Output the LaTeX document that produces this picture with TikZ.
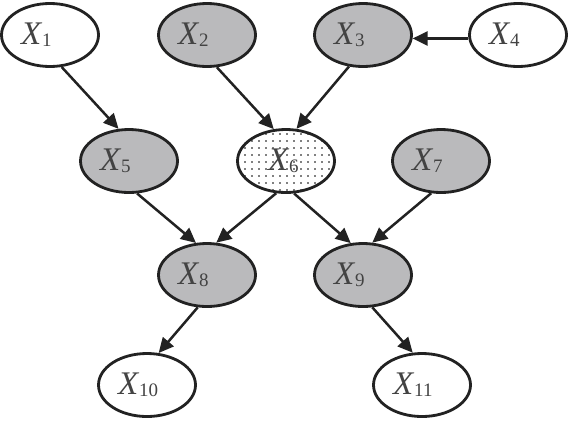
\documentclass[tikz,border=0pt]{standalone}
\usepackage{fontspec}
\setmainfont{Liberation Serif}
\usetikzlibrary{arrows.meta,patterns.meta,shapes.geometric}
\definecolor{nodegray}{RGB}{186,186,188}
\definecolor{inkgray}{RGB}{34,34,34}
\newcommand{\xv}[1]{\textit{X}\raisebox{-2pt}{\fontsize{19}{19}\selectfont #1}}

\begin{document}
\begin{tikzpicture}[x=1pt, y=-1pt,
    var/.style={ellipse, draw=inkgray, line width=2.8pt, minimum width=97pt,
      minimum height=63pt, inner sep=0pt, text width=58pt, align=left,
      text=inkgray!85, font=\fontsize{33}{35}\selectfont},
    obs/.style={var, fill=nodegray},
    arr/.style={draw=inkgray, line width=2.5pt, -{Triangle[length=15pt,width=14pt]}}]
        \useasboundingbox (0,0) rectangle (569,421);
        % top row
        \node[var] (x1) at (50,35) {\xv{1}};
        \node[obs] (x2) at (207,35) {\xv{2}};
        \node[obs] (x3) at (363,35) {\xv{3}};
        \node[var] (x4) at (518,35) {\xv{4}};
        % middle row
        \node[var, pattern={Dots[distance=7pt,radius=0.9pt]}, pattern color=black,
          text width=36pt] (x6) at (286,161) {\xv{6}};
        \node[obs] (x5) at (129,161) {\xv{5}};
        \node[obs] (x7) at (441,161) {\xv{7}};
        \node[obs] (x8) at (207,275) {\xv{8}};
        \node[obs] (x9) at (363,275) {\xv{9}};
        % bottom row
        \node[var] (x10) at (147,385) {\xv{10}};
        \node[var] (x11) at (422,385) {\xv{11}};
        % edges
        \draw[arr] (x1.-70) -- (x5.108);
        \draw[arr] (x2.-73) -- (x6.111);
        \draw[arr] (x3.246) -- (x6.72);
        \draw[arr] (x4.184) -- (x3.-4);
        \draw[arr] (x5.-76) -- (x8.109);
        \draw[arr] (x6.253) -- (x8.74);
        \draw[arr] (x6.-76) -- (x9.111);
        \draw[arr] (x7.253) -- (x9.74);
        \draw[arr] (x8.254) -- (x10.70);
        \draw[arr] (x9.-74) -- (x11.106);
\end{tikzpicture}
\end{document}
